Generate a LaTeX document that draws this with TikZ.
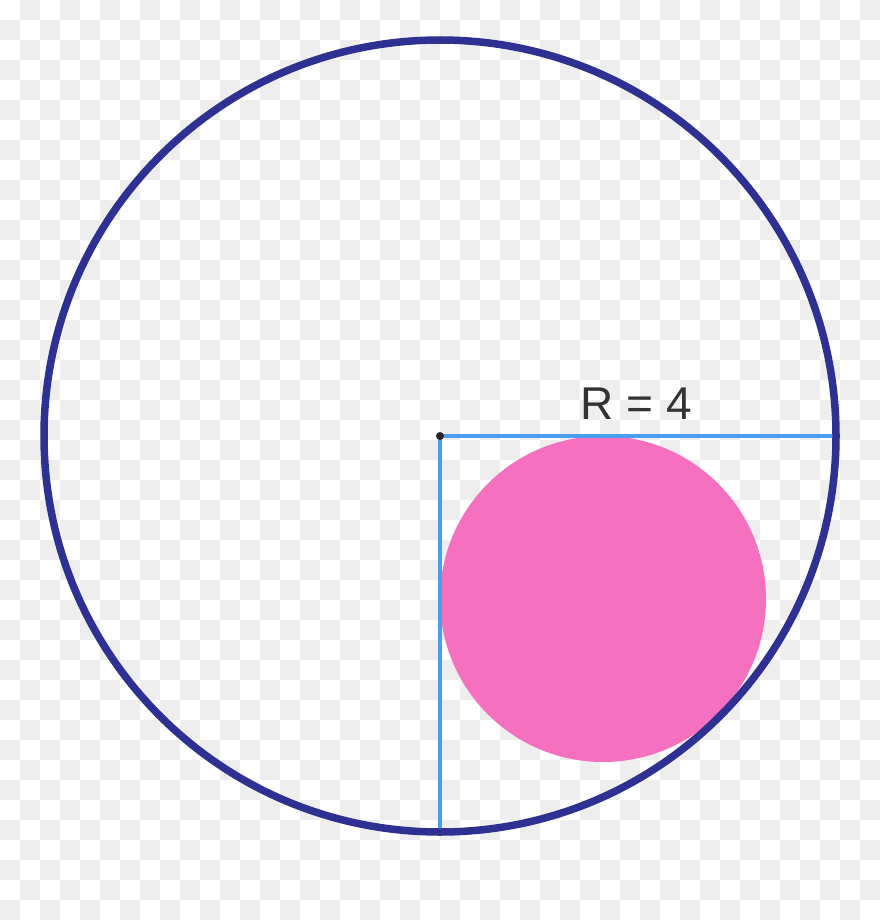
\documentclass[tikz,border=0pt]{standalone}
\usepackage{fontspec}
\setsansfont{Liberation Sans}
\usepackage{tikz}
\usetikzlibrary{positioning, calc}
\definecolor{ringblue}{HTML}{2E3192}
\definecolor{radblue}{HTML}{4A9EF0}
\definecolor{inpink}{HTML}{F670C0}
\definecolor{checkgray}{HTML}{EEEEEE}
\definecolor{labelgray}{HTML}{333333}
\tikzset{
    ring/.style={draw=ringblue, line width=7.5pt},
    radius line/.style={draw=radblue, line width=3.5pt},
    inner disc/.style={fill=inpink},
    label text/.style={font=\sffamily\fontsize{46}{46}\selectfont, text=labelgray, inner sep=0pt}
}

\begin{document}
\begin{tikzpicture}[x=1pt, y=-1pt]
    % background checks
    \useasboundingbox (0,0) rectangle (880,920);
    \fill [white] (0,0) rectangle (880,920);
    \foreach \i in {0,...,43} {
        \foreach \j in {0,...,45} {
            \pgfmathtruncatemacro{\odd}{mod(\i+\j,2)}
            \ifnum\odd=1
                \fill [checkgray] (20*\i,20*\j) rectangle ++(20,20);
            \fi
        }
    }

    \coordinate (O) at (440,436);
    \coordinate (E) at (837,436);
    \coordinate (S) at (440,833);

    \fill [inner disc] (603,599) circle [radius=163];
    \draw [radius line] (O) -- (E);
    \draw [radius line] (O) -- (S);
    \draw [ring] (O) circle [radius=396];
    \fill [black!85] (O) circle [radius=4];

    \node [label text] (R) at (636,404) {R = 4};
\end{tikzpicture}
\end{document}
